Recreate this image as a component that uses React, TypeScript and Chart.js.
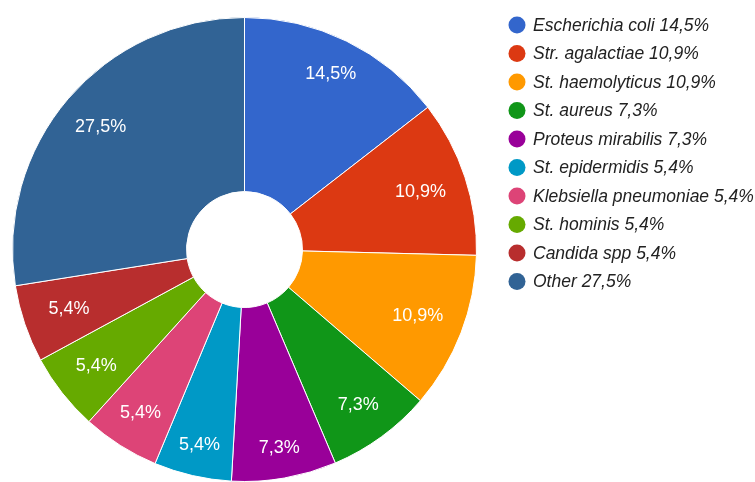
import React, { useEffect, useRef } from "react";
import { Chart, registerables } from "chart.js";

Chart.register(...registerables);

const categories = [
  "Escherichia coli",
  "Str. agalactiae",
  "St. haemolyticus",
  "St. aureus",
  "Proteus mirabilis",
  "St. epidermidis",
  "Klebsiella pneumoniae",
  "St. hominis",
  "Candida spp",
  "Other",
];

const percentages = [14.5, 10.9, 10.9, 7.3, 7.3, 5.4, 5.4, 5.4, 5.4, 27.5];

const colors = [
  "#3366cc",
  "#dc3912",
  "#ff9900",
  "#109618",
  "#990099",
  "#0099c6",
  "#dd4477",
  "#66aa00",
  "#b82e2e",
  "#316395",
];

const fmt = (v: number) => v.toFixed(1).replace(".", ",") + "%";

const FONT = '"Liberation Sans", Arial, sans-serif';

const sliceLabels = {
  id: "sliceLabels",
  afterDatasetsDraw(chart: any) {
    const ctx = chart.ctx;
    const meta = chart.getDatasetMeta(0);
    const data = chart.data.datasets[0].data as number[];
    ctx.save();
    ctx.font = `18px ${FONT}`;
    ctx.fillStyle = "#ffffff";
    ctx.textAlign = "center";
    ctx.textBaseline = "middle";
    meta.data.forEach((arc: any, i: number) => {
      const { x, y, startAngle, endAngle, outerRadius } = arc.getProps(
        ["x", "y", "startAngle", "endAngle", "outerRadius"],
        true
      );
      const mid = (startAngle + endAngle) / 2;
      const s = Math.abs(Math.cos(mid));
      const r = outerRadius * (0.884 - 0.09 * s);
      ctx.fillText(fmt(data[i]), x + Math.cos(mid) * r, y + Math.sin(mid) * r);
    });
    ctx.restore();
  },
};

const sideLegend = {
  id: "sideLegend",
  afterDraw(chart: any) {
    const ctx = chart.ctx;
    const labels = chart.data.labels as string[];
    const data = chart.data.datasets[0].data as number[];
    const bg = chart.data.datasets[0].backgroundColor as string[];
    const x0 = 517;
    const y0 = 25;
    const step = 28.5;
    ctx.save();
    ctx.font = `italic 17.5px ${FONT}`;
    ctx.textAlign = "left";
    ctx.textBaseline = "middle";
    labels.forEach((lab, i) => {
      const y = y0 + i * step;
      ctx.beginPath();
      ctx.arc(x0, y, 8.5, 0, Math.PI * 2);
      ctx.fillStyle = bg[i];
      ctx.fill();
      ctx.fillStyle = "#222222";
      ctx.fillText(`${lab} ${fmt(data[i])}`, 533, y + 1);
    });
    ctx.restore();
  },
};

export default function App() {
  const ref = useRef<HTMLCanvasElement | null>(null);
  useEffect(() => {
    if (!ref.current) return;
    const chart = new Chart(ref.current, {
      type: "doughnut",
      data: {
        labels: categories,
        datasets: [
          {
            data: percentages,
            backgroundColor: colors,
            borderColor: "#ffffff",
            borderWidth: 1,
          },
        ],
      },
      options: {
        animation: false,
        responsive: false,
        devicePixelRatio: 1,
        cutout: "25%",
        layout: { padding: { top: 17, bottom: 0, left: 12, right: 278 } },
        plugins: {
          legend: { display: false },
          tooltip: { enabled: false },
        },
      },
      plugins: [sliceLabels, sideLegend],
    });
    return () => chart.destroy();
  }, []);
  return (
    <div
      style={{
        position: "fixed",
        top: 0,
        left: 0,
        width: 755,
        height: 482,
        overflow: "hidden",
        background: "#ffffff",
      }}
    >
      <canvas ref={ref} width={755} height={482} style={{ display: "block" }} />
    </div>
  );
}
